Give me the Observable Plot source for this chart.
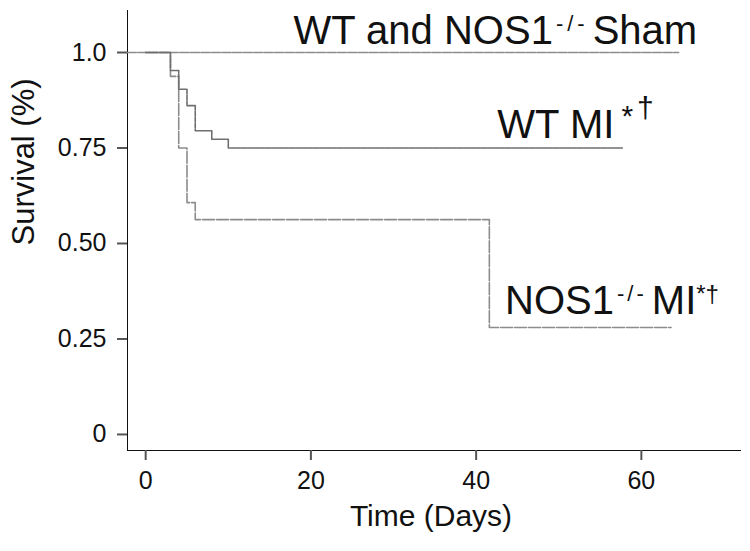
<!DOCTYPE html>
<html>
<head>
<meta charset="utf-8">
<script src="https://cdn.jsdelivr.net/npm/d3@7"></script>
<script src="https://cdn.jsdelivr.net/npm/@observablehq/plot@0.6"></script>
<style>
html, body { margin: 0; padding: 0; background: #fff; }
#chart { width: 750px; height: 551px; }
</style>
</head>
<body>
<div id="chart"></div>
<script>
// ---- data ----
const xTicks = [0, 20, 40, 60];
const yTicks = [0, 0.25, 0.5, 0.75, 1];
const yTickLabels = ["0", "0.25", "0.50", "0.75", "1.0"];
const xTitle = "Time (Days)";
const yTitle = "Survival (%)";

const seriesNames = ["WT and NOS1-/- Sham", "WT MI", "NOS1-/- MI"];

const shamDays = [-2.2, 64.5];
const shamSurv = [1, 1];

const wtMiDays = [0, 3, 4, 5, 6, 8, 10, 57.7];
const wtMiSurv = [1, 0.953, 0.904, 0.861, 0.795, 0.773, 0.75, 0.75];

const nosMiDays = [0, 3, 4, 5, 6, 41.6, 63.6];
const nosMiSurv = [1, 0.9375, 0.75, 0.607, 0.5625, 0.28, 0.28];

// ---- build tables ----
const toRows = (days, surv) => days.map((d, i) => ({day: d, surv: surv[i]}));
const sham = toRows(shamDays, shamSurv);
const wtMi = toRows(wtMiDays, wtMiSurv);
const nosMi = toRows(nosMiDays, nosMiSurv);
const last = (rows) => [rows[rows.length - 1]];

const font = "'Liberation Sans', Arial, Helvetica, sans-serif";

const lineOpts = {x: "day", y: "surv", curve: "step-after", strokeWidth: 1.6};
const labelOpts = {x: "day", y: "surv", textAnchor: "start", lineAnchor: "bottom", fontSize: 40, fill: "#111"};

const plot = Plot.plot({
  width: 750,
  height: 551,
  marginLeft: 127,
  marginRight: 10,
  marginTop: 10,
  marginBottom: 101,
  style: {fontSize: "25px", fontFamily: font, color: "#111", background: "#fff"},
  x: {domain: [-2.2, 72], ticks: xTicks, tickSize: 10, tickPadding: 11, line: true, label: null},
  y: {domain: [-0.042, 1.11], ticks: yTicks, tickFormat: d => yTickLabels[yTicks.indexOf(d)],
      tickSize: 10, tickPadding: 11, line: true, label: null},
  marks: [
    Plot.line(sham, {...lineOpts, stroke: "#8c8c8c", strokeDasharray: "9,1.5"}),
    Plot.line(nosMi, {...lineOpts, stroke: "#8c8c8c", strokeDasharray: "12,2"}),
    Plot.line(wtMi, {...lineOpts, stroke: "#6e6e6e", strokeDasharray: "5,1"}),
    Plot.text(last(sham), {...labelOpts, text: () => seriesNames[0], dx: -385, dy: -9}),
    Plot.text(last(wtMi), {...labelOpts, text: () => seriesNames[1], dx: -125, dy: -10}),
    Plot.text(last(nosMi), {...labelOpts, text: () => seriesNames[2], dx: -166, dy: -14}),
    Plot.text([xTitle], {text: d => d, frameAnchor: "bottom", dy: 75, dx: -3, fontSize: 30, fill: "#111"}),
    Plot.text([yTitle], {text: d => d, frameAnchor: "left", rotate: -90, dx: -103, dy: 15, fontSize: 31, fill: "#111"})
  ]
});

document.getElementById("chart").appendChild(plot);

// ---- axis styling (gray ticks and lines) ----
const svg = d3.select(plot);
svg.selectAll("g").each(function () {
  const a = this.getAttribute("aria-label") || "";
  if (/axis/.test(a) && !/label/.test(a)) {
    d3.select(this).attr("stroke", "#555").attr("stroke-width", 2);
    d3.select(this).selectAll("path,line").attr("stroke", "#555").attr("stroke-width", 2);
  }
  if (a === "frame") {
    d3.select(this).attr("stroke", "#555").attr("stroke-width", 2);
  }
});
svg.selectAll(".tick line, .domain").attr("stroke", "#555").attr("stroke-width", 2);

// ---- superscripts in series labels ----
const segments = {};
segments[seriesNames[0]] = [
  {t: "WT and NOS1"},
  {t: "-/-", size: 22, rise: 13, dx: 3, ls: 4},
  {t: "Sham", dx: 4}
];
segments[seriesNames[1]] = [
  {t: "WT MI"},
  {t: "*", size: 30, rise: 12, dx: 7},
  {t: "\u2020", size: 30, rise: 20, dx: 4}
];
segments[seriesNames[2]] = [
  {t: "NOS1"},
  {t: "-/-", size: 22, rise: 13, dx: 3, ls: 3},
  {t: "MI", dx: 5},
  {t: "*\u2020", size: 24, rise: 12}
];
svg.selectAll("text").each(function () {
  const segs = segments[this.textContent];
  if (!segs) return;
  const el = d3.select(this);
  el.text(null);
  let prev = 0;
  segs.forEach(s => {
    const rise = s.rise || 0;
    const ts = el.append("tspan").text(s.t);
    if (rise !== prev) ts.attr("dy", prev - rise);
    if (s.dx) ts.attr("dx", s.dx);
    if (s.size) ts.attr("font-size", s.size);
    if (s.ls) ts.attr("letter-spacing", s.ls);
    prev = rise;
  });
});
</script>
</body>
</html>
